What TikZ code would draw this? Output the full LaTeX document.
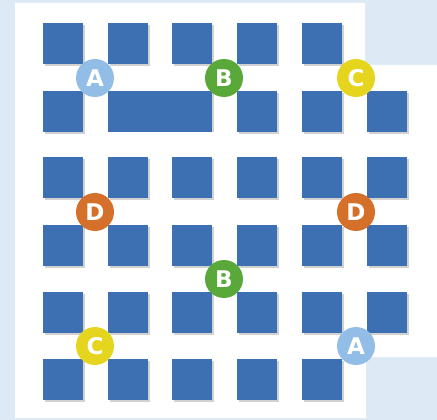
\documentclass[tikz,border=0pt]{standalone}
\usepackage{fontspec}
\setmainfont{DejaVu Sans}
\definecolor{bgblue}{HTML}{DDE9F4}
\definecolor{sqblue}{HTML}{3D70B2}
\definecolor{cA}{HTML}{92BDE6}
\definecolor{cB}{HTML}{58A83A}
\definecolor{cC}{HTML}{E6D51E}
\definecolor{cD}{HTML}{D5702A}
\tikzset{
  sq/.style={fill=sqblue, draw=none},
  shadowsq/.style={fill=black, opacity=0.18, draw=none},
  badge/.style={circle, minimum size=38pt, inner sep=0pt, text=white,
    font=\fontsize{23}{23}\selectfont\bfseries},
}
\begin{document}
\begin{tikzpicture}[x=1pt,y=-1pt]
\useasboundingbox (0,0) rectangle (437,420);
\fill[bgblue] (0,0) rectangle (437,420);
\fill[white] (15,3) -- (365,3) -- (365,65) -- (437,65) -- (437,357) -- (366,357) -- (366,418) -- (15,418) -- cycle;
% squares: columns left edges and row top edges
\def\cols{{43,108,172,237,302,367}}
\def\rows{{23,91,157,225,292,359}}
\newcommand{\sqat}[2]{%
  \pgfmathsetmacro{\xx}{\cols[#1]}%
  \pgfmathsetmacro{\yy}{\rows[#2]}%
  \fill[shadowsq] (\xx+1.5,\yy+2) rectangle ++(40,41);
  \fill[sq] (\xx,\yy) rectangle ++(40,41);
}
% row 1: cols 1-5
\foreach \c in {0,...,4} {\sqat{\c}{0}}
% row 2
\sqat{0}{1}
\fill[shadowsq] (109.5,93) rectangle (213.5,132);
\fill[sq] (108,91) rectangle (212,132);
\foreach \c in {3,4,5} {\sqat{\c}{1}}
% rows 3-5 full
\foreach \r in {2,3,4} {\foreach \c in {0,...,5} {\sqat{\c}{\r}}}
% row 6: cols 1-5
\foreach \c in {0,...,4} {\sqat{\c}{5}}
% badges
\node[badge, fill=cA] (a1) at (95,78) {A};
\node[badge, fill=cB] (b1) at (224,78) {B};
\node[badge, fill=cC] (c1) at (356,78) {C};
\node[badge, fill=cD] (d1) at (95,212) {D};
\node[badge, fill=cD] (d2) at (356,212) {D};
\node[badge, fill=cB] (b2) at (224,279) {B};
\node[badge, fill=cC] (c2) at (95,346) {C};
\node[badge, fill=cA] (a2) at (356,346) {A};
\end{tikzpicture}
\end{document}
